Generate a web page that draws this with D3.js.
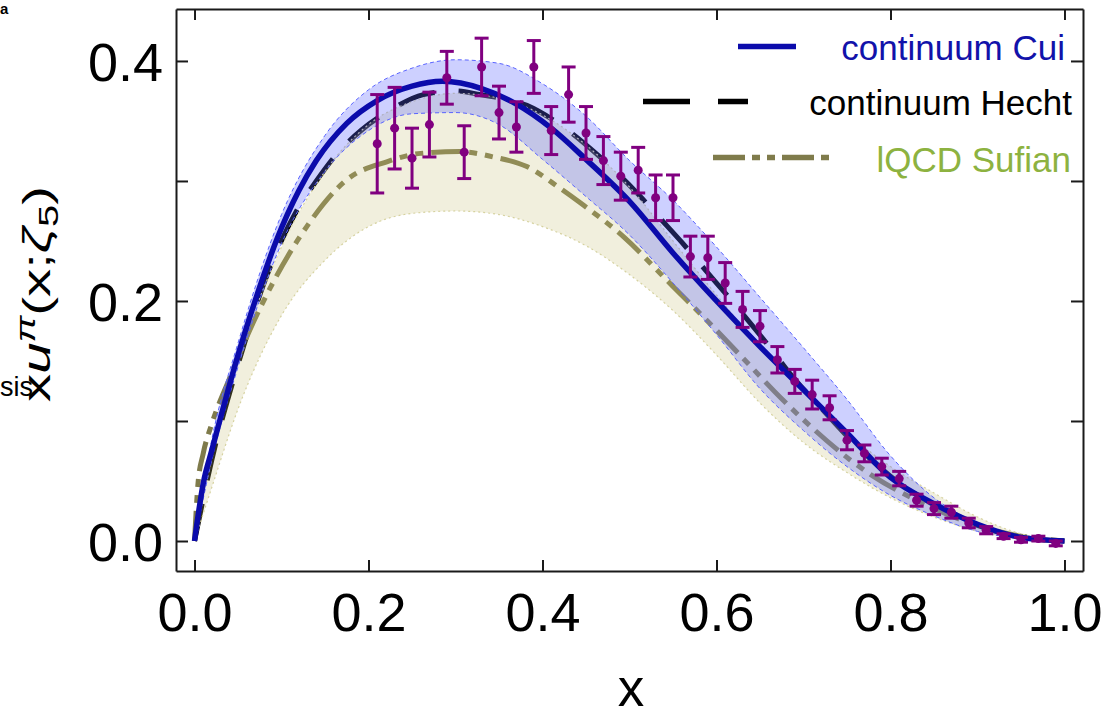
<!DOCTYPE html>
<html>
<head>
<meta charset="utf-8">
<script src="https://cdn.jsdelivr.net/npm/d3@7"></script>
<style>
  html, body { margin: 0; padding: 0; background: #fff; }
  svg { display: block; font-family: "Liberation Sans", Arial, Helvetica, sans-serif; }
</style>
</head>
<body>
<svg id="chart" width="1116" height="718"></svg>
<script>
// ---------------- data ----------------
const xTicks = [0, 0.2, 0.4, 0.6, 0.8, 1.0];
const yTicks = [0, 0.1, 0.2, 0.3, 0.4];
const yTickLabels = [0, 0.2, 0.4];

// continuum Cui (solid blue)
const cuiX = [0, 0.01, 0.02, 0.03, 0.05, 0.07, 0.095, 0.12, 0.14, 0.175, 0.21, 0.25, 0.285, 0.33, 0.37, 0.41, 0.45, 0.5, 0.55, 0.6, 0.65, 0.7, 0.75, 0.8, 0.85, 0.9, 0.95, 1.0];
const cuiY = [0, 0.048, 0.076, 0.103, 0.155, 0.201, 0.252, 0.292, 0.317, 0.348, 0.367, 0.379, 0.383, 0.377, 0.364, 0.344, 0.318, 0.283, 0.240, 0.200, 0.162, 0.126, 0.090, 0.053, 0.031, 0.014, 0.003, 0];

// band grid shared by both bands
const bandX = [0, 0.02, 0.05, 0.1, 0.15, 0.2, 0.25, 0.3, 0.35, 0.4, 0.45, 0.5, 0.55, 0.6, 0.65, 0.7, 0.75, 0.8, 0.85, 0.9, 0.95, 1.0];
const cuiUpper = [0, 0.085, 0.165, 0.272, 0.338, 0.376, 0.394, 0.401, 0.398, 0.381, 0.354, 0.317, 0.284, 0.245, 0.203, 0.161, 0.118, 0.071, 0.036, 0.015, 0.004, 0];
const cuiLower = [0, 0.068, 0.145, 0.248, 0.308, 0.342, 0.356, 0.357, 0.347, 0.318, 0.287, 0.255, 0.215, 0.172, 0.127, 0.092, 0.062, 0.038, 0.021, 0.008, 0.002, 0];
const lqcdUpper = [0, 0.070, 0.150, 0.245, 0.308, 0.347, 0.366, 0.373, 0.369, 0.355, 0.330, 0.295, 0.250, 0.205, 0.162, 0.125, 0.090, 0.062, 0.040, 0.020, 0.006, 0];
const lqcdLower = [0, 0.045, 0.110, 0.188, 0.234, 0.262, 0.273, 0.275, 0.272, 0.262, 0.246, 0.222, 0.192, 0.155, 0.115, 0.082, 0.057, 0.036, 0.020, 0.008, 0.002, 0];

// continuum Hecht (black dashed)
const hechtX = [0, 0.02, 0.05, 0.08, 0.118, 0.14, 0.163, 0.192, 0.225, 0.263, 0.30, 0.328, 0.382, 0.412, 0.447, 0.478, 0.51, 0.535, 0.56, 0.587, 0.62, 0.665, 0.684, 0.72, 0.76, 0.8, 0.85, 0.9, 0.95, 1.0];
const hechtY = [0, 0.068, 0.147, 0.215, 0.276, 0.300, 0.322, 0.3425, 0.359, 0.372, 0.375, 0.372, 0.363, 0.351, 0.332, 0.312, 0.289, 0.269, 0.249, 0.226, 0.198, 0.158, 0.140, 0.111, 0.080, 0.054, 0.030, 0.013, 0.003, 0];

// lQCD Sufian (olive dash-dot)
const lqcdX = [0, 0.004, 0.01, 0.02, 0.04, 0.06, 0.09, 0.129, 0.175, 0.221, 0.26, 0.305, 0.3435, 0.382, 0.42, 0.443, 0.493, 0.55, 0.596, 0.627, 0.677, 0.70, 0.753, 0.78, 0.83, 0.88, 0.93, 1.0];
const lqcdY = [0, 0.048, 0.073, 0.098, 0.135, 0.170, 0.215, 0.262, 0.301, 0.316, 0.323, 0.3245, 0.320, 0.312, 0.294, 0.282, 0.2536, 0.212, 0.1786, 0.155, 0.117, 0.101, 0.068, 0.054, 0.034, 0.018, 0.007, 0];

// data points with error bars (purple)
const dataX = [0.21, 0.23, 0.25, 0.27, 0.29, 0.31, 0.33, 0.35, 0.37, 0.39, 0.41, 0.43, 0.45, 0.47, 0.49, 0.51, 0.53, 0.55, 0.57, 0.59, 0.61, 0.63, 0.65, 0.67, 0.69, 0.71, 0.73, 0.75, 0.77, 0.79, 0.81, 0.83, 0.85, 0.87, 0.89, 0.91, 0.93, 0.95, 0.97, 0.99];
const dataY = [0.331, 0.344, 0.319, 0.347, 0.386, 0.324, 0.395, 0.357, 0.345, 0.395, 0.342, 0.372, 0.340, 0.317, 0.304, 0.309, 0.286, 0.286, 0.237, 0.236, 0.215, 0.193, 0.179, 0.151, 0.133, 0.122, 0.111, 0.084, 0.073, 0.062, 0.052, 0.034, 0.027, 0.024, 0.015, 0.009, 0.004, 0.001, 0.002, -0.002];
const dataErr = [0.041, 0.034, 0.025, 0.027, 0.022, 0.022, 0.024, 0.022, 0.021, 0.022, 0.020, 0.023, 0.022, 0.020, 0.020, 0.019, 0.019, 0.019, 0.017, 0.018, 0.017, 0.015, 0.013, 0.011, 0.010, 0.012, 0.010, 0.008, 0.007, 0.007, 0.006, 0.005, 0.005, 0.005, 0.004, 0.003, 0.002, 0.002, 0.002, 0.002];

const legendLabels = ["continuum Cui", "continuum Hecht", "lQCD Sufian"];

// ---------------- drawing ----------------
const svg = d3.select("#chart");
const x = d3.scaleLinear().domain([-0.0213, 1.0213]).range([176, 1083]);
const y = d3.scaleLinear().domain([-0.025, 0.4433]).range([571, 9]);

const C_BLUE = "#0b0bab", C_OLIVE = "#7f7b4b", C_PURPLE = "#800080";

const zip = (xs, ys) => xs.map((v, i) => [v, ys[i]]);
const line = d3.line().x(d => x(d[0])).y(d => y(d[1])).curve(d3.curveMonotoneX);
const area = d3.area().x(d => x(d.x)).y0(d => y(d.lo)).y1(d => y(d.hi)).curve(d3.curveMonotoneX);

svg.append("defs").append("clipPath").attr("id", "clip")
  .append("rect").attr("x", 176).attr("y", 9).attr("width", 907).attr("height", 562);
const plot = svg.append("g").attr("clip-path", "url(#clip)");

// Hecht dashed (under bands)
plot.append("path").attr("d", line(zip(hechtX, hechtY)))
  .attr("fill", "none").attr("stroke", "#000").attr("stroke-width", 5)
  .attr("stroke-dasharray", "38,24");
// lQCD dash-dot (under bands)
plot.append("path").attr("d", line(zip(lqcdX, lqcdY)))
  .attr("fill", "none").attr("stroke", C_OLIVE).attr("stroke-width", 5)
  .attr("stroke-dasharray", "30,8,8,8,8,8");

// olive band
const lqcdBand = bandX.map((v, i) => ({x: v, lo: lqcdLower[i], hi: lqcdUpper[i]}));
plot.append("path").attr("d", area(lqcdBand))
  .attr("fill", "rgba(200,190,120,0.25)").attr("stroke", "none");
[lqcdUpper, lqcdLower].forEach(arr => {
  plot.append("path").attr("d", line(zip(bandX, arr)))
    .attr("fill", "none").attr("stroke", "#d6d2a0").attr("stroke-width", 1.2)
    .attr("stroke-dasharray", "2,3");
});

// blue band
const cuiBand = bandX.map((v, i) => ({x: v, lo: cuiLower[i], hi: cuiUpper[i]}));
plot.append("path").attr("d", area(cuiBand))
  .attr("fill", "rgba(90,100,255,0.30)").attr("stroke", "none");
[cuiUpper, cuiLower].forEach(arr => {
  plot.append("path").attr("d", line(zip(bandX, arr)))
    .attr("fill", "none").attr("stroke", "#5a64ff").attr("stroke-width", 1)
    .attr("stroke-dasharray", "4,3");
});

// Cui solid
plot.append("path").attr("d", line(zip(cuiX, cuiY)))
  .attr("fill", "none").attr("stroke", C_BLUE).attr("stroke-width", 5.5);

// data with error bars
const pts = dataX.map((v, i) => ({x: v, y: dataY[i], e: dataErr[i]}));
const pg = plot.append("g").attr("stroke", C_PURPLE).attr("fill", C_PURPLE);
pts.forEach(p => {
  const cx = x(p.x), y1 = y(p.y + p.e), y2 = y(p.y - p.e);
  pg.append("line").attr("x1", cx).attr("x2", cx).attr("y1", y1).attr("y2", y2).attr("stroke-width", 3);
  pg.append("line").attr("x1", cx - 7).attr("x2", cx + 7).attr("y1", y1).attr("y2", y1).attr("stroke-width", 3);
  pg.append("line").attr("x1", cx - 7).attr("x2", cx + 7).attr("y1", y2).attr("y2", y2).attr("stroke-width", 3);
  pg.append("circle").attr("cx", cx).attr("cy", y(p.y)).attr("r", 4.5).attr("stroke", "none");
});

// ---------------- axes / frame ----------------
const fmt = d3.format(".1f");
const axB = svg.append("g").attr("transform", "translate(0,571)")
  .call(d3.axisBottom(x).tickValues(xTicks).tickSizeInner(-11).tickSizeOuter(0).tickPadding(22).tickFormat(fmt));
const axT = svg.append("g").attr("transform", "translate(0,9)")
  .call(d3.axisTop(x).tickValues(xTicks).tickSizeInner(-11).tickSizeOuter(0).tickFormat(""));
const axL = svg.append("g").attr("transform", "translate(176,0)")
  .call(d3.axisLeft(y).tickValues(yTicks).tickSizeInner(-12).tickSizeOuter(0).tickPadding(13)
    .tickFormat(d => yTickLabels.some(t => Math.abs(t - d) < 1e-9) ? fmt(d) : ""));
const axR = svg.append("g").attr("transform", "translate(1083,0)")
  .call(d3.axisRight(y).tickValues(yTicks).tickSizeInner(-12).tickSizeOuter(0).tickFormat(""));
[axB, axT, axL, axR].forEach(g => {
  g.select(".domain").attr("stroke", "#1a1a1a").attr("stroke-width", 2);
  g.selectAll(".tick line").attr("stroke", "#1a1a1a").attr("stroke-width", 2);
  g.selectAll("text").attr("font-size", 54).attr("fill", "#000")
    .attr("font-family", "'Liberation Sans', Arial, sans-serif");
});
axL.selectAll("text").attr("dy", "0.37em");

// axis labels
svg.append("text").attr("x", 631).attr("y", 706).attr("text-anchor", "middle")
  .attr("font-size", 53).text("x");

const yl = svg.append("text").attr("x", 0).attr("y", 0).attr("font-size", 38);
yl.append("tspan").text("x");
yl.append("tspan").attr("font-style", "italic").text("u");
yl.append("tspan").attr("font-style", "italic").attr("font-size", 27).attr("dy", -15).text("π");
yl.append("tspan").attr("dy", 15).text("(x;");
yl.append("tspan").attr("font-style", "italic").text("ζ");
yl.append("tspan").attr("font-size", 27).attr("dy", 8).text("5");
yl.append("tspan").attr("dy", -8).text(")");
{
  const bb = yl.node().getBBox();
  const targetLen = 216, centerY = 294, baseX = 50;
  const sx = targetLen / bb.width;
  const y0 = centerY + (bb.x + bb.width / 2) * sx;
  yl.attr("transform", `translate(${baseX},${y0}) rotate(-90) scale(${sx},1)`);
}

// fragments of neighbouring text at the edges
svg.append("text").attr("x", 0).attr("y", 14).attr("font-size", 15).attr("font-weight", "bold").text("a");
svg.append("text").attr("x", 0).attr("y", 396).attr("font-size", 27).text("sis");

// ---------------- legend ----------------
const lg = svg.append("g");
lg.append("line").attr("x1", 738).attr("x2", 796).attr("y1", 46.5).attr("y2", 46.5)
  .attr("stroke", C_BLUE).attr("stroke-width", 5.5);
lg.append("text").attr("x", 1065).attr("y", 60).attr("text-anchor", "end")
  .attr("font-size", 35).attr("fill", "#1212aa").text(legendLabels[0]);
lg.append("line").attr("x1", 643).attr("x2", 748).attr("y1", 101.5).attr("y2", 101.5)
  .attr("stroke", "#000").attr("stroke-width", 5.5).attr("stroke-dasharray", "47,28");
lg.append("text").attr("x", 1072).attr("y", 115).attr("text-anchor", "end")
  .attr("font-size", 35).attr("fill", "#000").text(legendLabels[1]);
lg.append("line").attr("x1", 713).attr("x2", 829).attr("y1", 157.5).attr("y2", 157.5)
  .attr("stroke", C_OLIVE).attr("stroke-width", 5.5).attr("stroke-dasharray", "32,7,8,7,8,7");
lg.append("text").attr("x", 1071).attr("y", 172).attr("text-anchor", "end")
  .attr("font-size", 35).attr("fill", "#8db240").text(legendLabels[2]);
</script>
</body>
</html>
